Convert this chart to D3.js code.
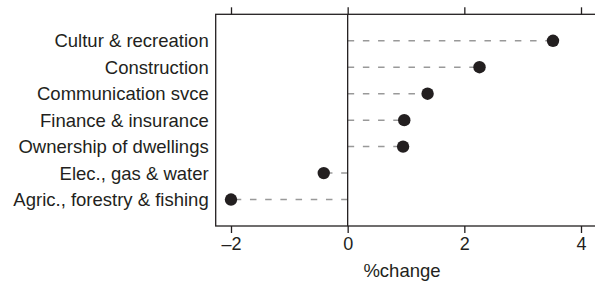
<!DOCTYPE html>
<html>
    <head>
        <meta http-equiv="Content-Type" content="text/html;charset=utf-8">
        <script src="https://d3js.org/d3.v7.min.js"></script>
        <style>
            body { margin:0; background:#fff; }
            text { font-family: "Liberation Sans", Arial, sans-serif; fill:#231f20; }
        </style>
    </head>
    <body>
        <svg width="595" height="287"></svg>
    </body>
    <script>
        // data, top row first
        var sectors = ["Cultur & recreation","Construction","Communication svce",
                       "Finance & insurance","Ownership of dwellings",
                       "Elec., gas & water","Agric., forestry & fishing"];
        var pctChange = [3.52, 2.26, 1.37, 0.97, 0.95, -0.41, -2.0];
        var xTicks = [-2, 0, 2, 4];

        var svg = d3.select("svg");
        var boxL = 215.7, boxR = 597, boxT = 14.3, boxB = 226;

        var x = d3.scaleLinear()
            .domain([-2, 4])
            .range([231, 581]);

        var y = d3.scaleLinear()
            .domain([0, sectors.length + 1])
            .range([boxT, boxB]);

        var rows = sectors.map(function(s, i){
            return {name: s, v: pctChange[i], pos: i + 1};
        });

        // frame
        svg.append("rect")
            .attr("x", boxL).attr("y", boxT)
            .attr("width", boxR - boxL).attr("height", boxB - boxT)
            .attr("fill", "none")
            .attr("stroke", "#231f20")
            .attr("stroke-width", 1.3);

        // dashed leaders from zero
        svg.selectAll("line.lead")
            .data(rows)
            .enter()
            .append("line")
                .attr("class", "lead")
                .attr("x1", x(0))
                .attr("x2", function(d){ return x(d.v); })
                .attr("y1", function(d){ return y(d.pos); })
                .attr("y2", function(d){ return y(d.pos); })
                .attr("stroke", "#999999")
                .attr("stroke-width", 1.5)
                .attr("stroke-dasharray", "6.5,8.7");

        // zero line
        svg.append("line")
            .attr("x1", x(0)).attr("x2", x(0))
            .attr("y1", boxT).attr("y2", boxB)
            .attr("stroke", "#231f20")
            .attr("stroke-width", 1.3);

        svg.selectAll("circle")
            .data(rows)
            .enter()
            .append("circle")
                .attr("cx", function(d){ return x(d.v); })
                .attr("cy", function(d){ return y(d.pos); })
                .attr("r", 6.2)
                .attr("fill", "#231f20");

        // category labels
        svg.selectAll("text.cat")
            .data(rows)
            .enter()
            .append("text")
                .attr("class", "cat")
                .attr("x", boxL - 7)
                .attr("y", function(d){ return y(d.pos); })
                .attr("dy", "0.36em")
                .attr("text-anchor", "end")
                .style("font-size", "18.5px")
                .text(function(d){ return d.name; });

        var fmt = function(d){ return d < 0 ? "\u2013" + Math.abs(d) : d; };

        var bottomAxis = d3.axisBottom(x)
            .tickValues(xTicks)
            .tickSize(7)
            .tickPadding(4)
            .tickFormat(fmt);

        var gb = svg.append("g")
            .attr("transform", "translate(0," + boxB + ")")
            .call(bottomAxis);
        gb.select(".domain").remove();
        gb.selectAll("line").attr("stroke", "#231f20").attr("stroke-width", 1.3);
        gb.selectAll("text").style("font-size", "18px");

        var gt = svg.append("g")
            .attr("transform", "translate(0," + boxT + ")")
            .call(d3.axisTop(x).tickValues(xTicks).tickSize(7).tickFormat(""));
        gt.select(".domain").remove();
        gt.selectAll("line").attr("stroke", "#231f20").attr("stroke-width", 1.3);

        svg.append("text")
            .attr("x", 402)
            .attr("y", 277)
            .attr("text-anchor", "middle")
            .style("font-size", "18.5px")
            .text("%change");
    </script>
</html>
